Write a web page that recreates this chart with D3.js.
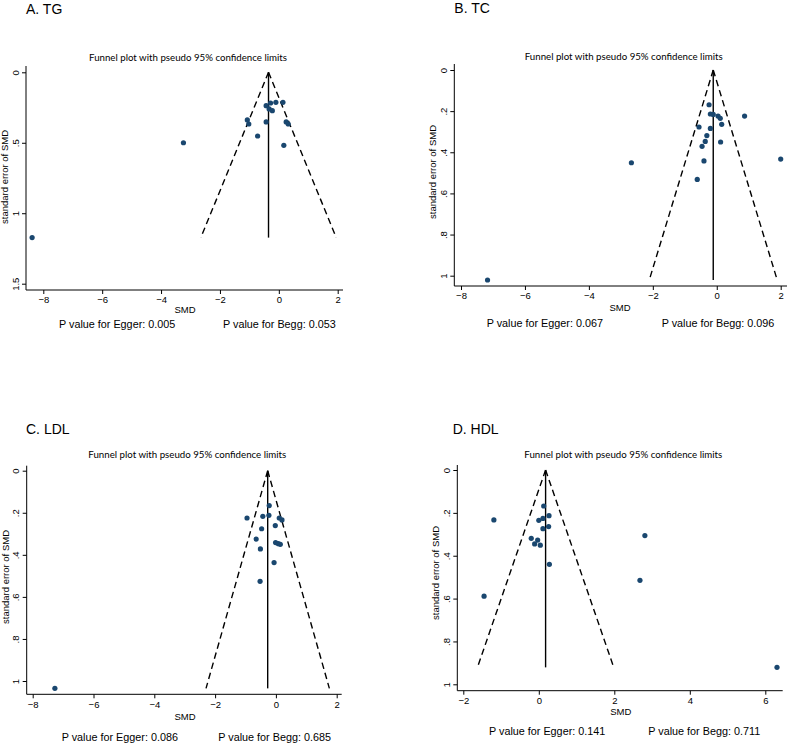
<!DOCTYPE html>
<html>
<head>
<meta charset="utf-8">
<script src="https://cdn.jsdelivr.net/npm/d3@7"></script>
<style>
body { margin: 0; background: #fff; }
svg { display: block; }
.tick text { font-family: "Liberation Sans", Arial, sans-serif; font-size: 9.5px; fill: #000; }
.tick line { stroke: #000; }
</style>
</head>
<body>
<svg id="chart" width="787" height="744"></svg>
<script>
// study values (SMD, standard error of SMD)
var tgSMD  = [-8.38, -3.24, -1.07, -1.02, -0.72, -0.43, -0.43, -0.28, -0.33, -0.22, -0.10, 0.14, 0.25, 0.32, 0.17];
var tgSE   = [1.173, 0.50, 0.338, 0.367, 0.452, 0.237, 0.352, 0.218, 0.26, 0.272, 0.213, 0.213, 0.352, 0.367, 0.518];
var tcSMD  = [-7.17, -2.67, 2.00, 0.87, -0.24, -0.20, -0.11, 0.04, 0.11, 0.155, -0.555, -0.20, -0.31, -0.36, -0.46, 0.12, -0.40, -0.61];
var tcSE   = [1.021, 0.451, 0.433, 0.224, 0.169, 0.214, 0.216, 0.224, 0.235, 0.264, 0.277, 0.284, 0.319, 0.347, 0.371, 0.35, 0.442, 0.532];
var ldlSMD = [-7.27, -0.95, -0.43, -0.22, -0.23, 0.11, 0.20, -0.02, -0.47, -0.65, -0.01, 0.08, 0.145, -0.51, -0.06, -0.52];
var ldlSE  = [1.035, 0.225, 0.217, 0.166, 0.212, 0.225, 0.234, 0.261, 0.276, 0.325, 0.342, 0.347, 0.35, 0.372, 0.437, 0.526];
var hdlSMD = [6.31, -1.45, -1.19, 2.81, 2.68, 0.13, 0.27, 0.11, 0.00, 0.11, 0.26, -0.20, -0.03, -0.11, 0.04, 0.28];
var hdlSE  = [0.921, 0.589, 0.233, 0.306, 0.515, 0.168, 0.213, 0.226, 0.235, 0.274, 0.264, 0.319, 0.327, 0.345, 0.351, 0.44];

var pooled = [-0.35, -0.11, -0.27, 0.18];
var panelNames = ["A. TG", "B. TC", "C. LDL", "D. HDL"];
var eggerP = ["0.005", "0.067", "0.086", "0.141"];
var beggP  = ["0.053", "0.096", "0.685", "0.711"];

var xTicksWide = [-8, -6, -4, -2, 0, 2];
var xTicksHdl  = [-2, 0, 2, 4, 6];
var yTicksTg   = [0, 0.5, 1, 1.5];
var yLabelsTg  = ["0", ".5", "1", "1.5"];
var yTicks     = [0, 0.2, 0.4, 0.6, 0.8, 1];
var yLabels    = ["0", ".2", ".4", ".6", ".8", "1"];

var plotTitle = "Funnel plot with pseudo 95% confidence limits";

// where each panel sits on the page
var panels = [
    {smd: tgSMD, se: tgSE, xt: xTicksWide, yt: yTicksTg, yl: yLabelsTg,
     ax: 26, ay: 290, xEnd: 343, yTop: 66, xr: [43.3, 337.7], yr: [72.3, 283.7],
     name: [26, 13.5], title: [188, 61], yTitle: 177, xTitle: [185, 313], pv: [59, 223, 328]},
    {smd: tcSMD, se: tcSE, xt: xTicksWide, yt: yTicks, yl: yLabels,
     ax: 454.3, ay: 286, xEnd: 800, yTop: 64, xr: [461, 780.7], yr: [70, 275.7],
     name: [454.3, 13], title: [623.7, 59.5], yTitle: 172, xTitle: [620, 310.7], pv: [486.7, 661.7, 327]},
    {smd: ldlSMD, se: ldlSE, xt: xTicksWide, yt: yTicks, yl: yLabels,
     ax: 26.7, ay: 694.3, xEnd: 341.7, yTop: 465.7, xr: [32.7, 336.7], yr: [470.7, 681],
     name: [26, 434.3], title: [187.3, 458.3], yTitle: 577, xTitle: [185, 720], pv: [61.7, 218.3, 741]},
    {smd: hdlSMD, se: hdlSE, xt: xTicksHdl, yt: yTicks, yl: yLabels,
     ax: 457.3, ay: 690.7, xEnd: 782.7, yTop: 465, xr: [463.3, 765.3], yr: [470, 684.3],
     name: [452.7, 434.3], title: [623.3, 458.3], yTitle: 573, xTitle: [620.7, 715], pv: [489, 648.3, 735]}
];

var svg = d3.select("#chart");
var sans = "'Liberation Sans', Arial, sans-serif";

panels.forEach(function(p, i) {
    var x = d3.scaleLinear().domain(d3.extent(p.xt)).range(p.xr);
    var y = d3.scaleLinear().domain(d3.extent(p.yt)).range(p.yr);
    var g = svg.append("g");

    // panel letter
    g.append("text").attr("x", p.name[0]).attr("y", p.name[1])
        .style("font-family", sans).style("font-size", "14px").text(panelNames[i]);

    // stata style title
    g.append("text").attr("x", p.title[0]).attr("y", p.title[1])
        .attr("text-anchor", "middle")
        .style("font-family", "Lato, 'Open Sans', sans-serif").style("font-size", "9.7px")
        .text(plotTitle);

    // axes
    var xa = g.append("g").attr("transform", "translate(0," + p.ay + ")")
        .call(d3.axisBottom(x).tickValues(p.xt).tickSize(4).tickPadding(2.5).tickSizeOuter(0));
    xa.select(".domain").remove();
    var ya = g.append("g").attr("transform", "translate(" + p.ax + ",0)")
        .call(d3.axisLeft(y).tickValues(p.yt).tickSize(4).tickSizeOuter(0)
            .tickFormat(function(d, k) { return p.yl[k]; }));
    ya.select(".domain").remove();
    ya.selectAll(".tick text")
        .attr("transform", "rotate(-90)")
        .attr("x", 0).attr("y", -7.5).attr("dy", 0)
        .style("text-anchor", "middle");

    g.append("line").attr("x1", p.ax).attr("x2", p.xEnd).attr("y1", p.ay).attr("y2", p.ay)
        .attr("stroke", "#000").attr("stroke-width", 1);
    g.append("line").attr("x1", p.ax).attr("x2", p.ax).attr("y1", p.yTop).attr("y2", p.ay)
        .attr("stroke", "#000").attr("stroke-width", 1);

    g.append("text").attr("transform", "translate(" + (p.ax - 18) + "," + p.yTitle + ") rotate(-90)")
        .attr("text-anchor", "middle")
        .style("font-family", sans).style("font-size", "9.5px")
        .text("standard error of SMD");
    g.append("text").attr("x", p.xTitle[0]).attr("y", p.xTitle[1])
        .attr("text-anchor", "middle")
        .style("font-family", sans).style("font-size", "9.5px")
        .text("SMD");

    // pseudo 95% limits, each side dashed from the apex
    var seMax = d3.max(p.se);
    var th = pooled[i];
    var line = d3.line().x(function(d) { return x(d[0]); }).y(function(d) { return y(d[1]); });
    [-1, 1].forEach(function(s) {
        g.append("path")
            .attr("d", line([[th, 0], [th + s * 1.96 * seMax, seMax]]))
            .attr("fill", "none").attr("stroke", "#000").attr("stroke-width", 1.4)
            .attr("stroke-dasharray", "6.5,4");
    });
    g.append("path")
        .attr("d", line([[th, 0], [th, seMax]]))
        .attr("stroke", "#000").attr("stroke-width", 1.4);

    // studies
    g.selectAll("circle").data(p.smd).enter().append("circle")
        .attr("cx", function(d) { return x(d); })
        .attr("cy", function(d, k) { return y(p.se[k]); })
        .attr("r", 2.6)
        .attr("fill", "#1a476f");

    g.append("text").attr("x", p.pv[0]).attr("y", p.pv[2])
        .style("font-family", sans).style("font-size", "10.8px")
        .text("P value for Egger: " + eggerP[i]);
    g.append("text").attr("x", p.pv[1]).attr("y", p.pv[2])
        .style("font-family", sans).style("font-size", "10.8px")
        .text("P value for Begg: " + beggP[i]);
});
</script>
</body>
</html>
